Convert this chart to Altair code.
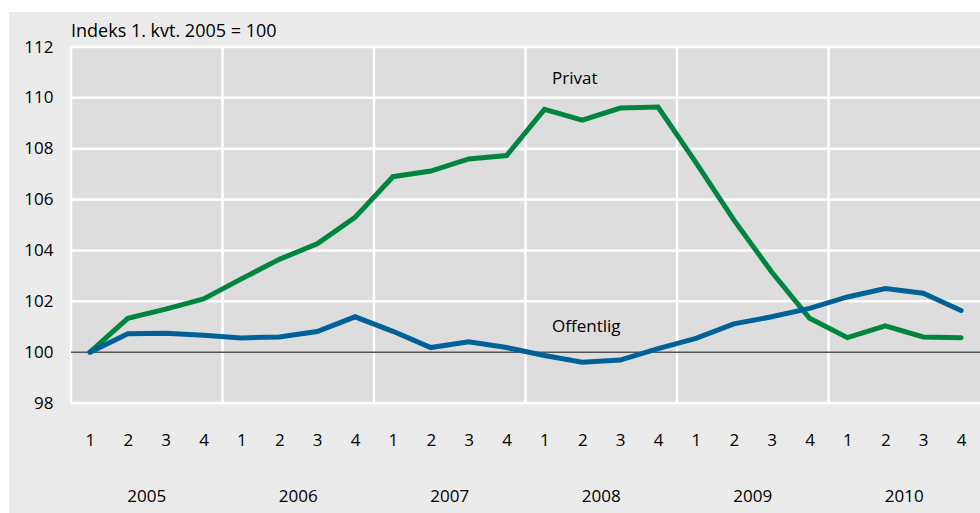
import altair as alt
import pandas as pd

# ---- data ----
years = ["2005", "2006", "2007", "2008", "2009", "2010"]
quarters = ["1", "2", "3", "4"]
privat = [100.0, 101.33, 101.69, 102.09,
          102.88, 103.65, 104.26, 105.30,
          106.90, 107.12, 107.60, 107.73,
          109.55, 109.12, 109.60, 109.64,
          107.45, 105.20, 103.15, 101.33,
          100.57, 101.03, 100.60, 100.57]
offentlig = [100.0, 100.72, 100.74, 100.66,
             100.56, 100.60, 100.81, 101.39,
             100.82, 100.18, 100.41, 100.18,
             99.87, 99.60, 99.69, 100.14,
             100.54, 101.11, 101.39, 101.72,
             102.17, 102.50, 102.32, 101.64]
y_ticks = [98, 100, 102, 104, 106, 108, 110, 112]
y_grid = [98, 102, 104, 106, 108, 110, 112]
year_bounds = [-0.5, 3.5, 7.5, 11.5, 15.5, 19.5]
ann_labels = ["Privat", "Offentlig"]
ann_x = [12.2, 12.2]
ann_y = [110.75, 101.0]
y_title = "Indeks 1. kvt. 2005 = 100"

n = len(privat)
idx = list(range(n))
df = pd.DataFrame({
    "idx": idx * 2,
    "value": privat + offentlig,
    "series": ["Privat"] * n + ["Offentlig"] * n,
})
years_df = pd.DataFrame({"year": years, "pos": [1.5 + 4 * i for i in range(len(years))]})
ann_df = pd.DataFrame({"label": ann_labels, "x": ann_x, "y": ann_y})

W, H = 909, 356
GREEN = "#00853f"
BLUE = "#006199"
FONT = "Open Sans, Noto Sans, sans-serif"

xs = alt.Scale(domain=[-0.5, n - 0.5], nice=False, zero=False)
ys = alt.Scale(domain=[98, 112], nice=False, zero=False)

xaxis = alt.Axis(values=idx, labelExpr="(datum.value % 4) + 1", title=None, grid=False,
                 ticks=False, domain=False, labelPadding=29, labelFont=FONT,
                 labelFontSize=17, labelColor="black", zindex=1)
yaxis = alt.Axis(values=y_ticks, title=None, grid=False, ticks=False, domain=False,
                 labelPadding=18, labelFont=FONT, labelFontSize=17,
                 labelColor="black", zindex=1)

one = alt.Data(values=[{}])

panel = alt.Chart(one).mark_rect(color="#ebebeb").encode(
    x=alt.value(-62), x2=alt.value(W), y=alt.value(-35), y2=alt.value(466))
plotbg = alt.Chart(one).mark_rect(color="#dddddd").encode(
    x=alt.value(0), x2=alt.value(W), y=alt.value(0), y2=alt.value(H))

hgrid = alt.Chart(pd.DataFrame({"v": y_grid})).mark_rule(color="white", strokeWidth=2.5).encode(
    y=alt.Y("v:Q", scale=ys, axis=yaxis), x=alt.value(0), x2=alt.value(W))
vgrid = alt.Chart(pd.DataFrame({"v": year_bounds})).mark_rule(color="white", strokeWidth=2.5).encode(
    x=alt.X("v:Q", scale=xs, axis=xaxis), y=alt.value(0), y2=alt.value(H))
base100 = alt.Chart(pd.DataFrame({"v": [100]})).mark_rule(color="#555555", strokeWidth=1.5).encode(
    y=alt.Y("v:Q", scale=ys, axis=yaxis), x=alt.value(0), x2=alt.value(W))

lines = alt.Chart(df).mark_line(strokeWidth=5, strokeCap="round").encode(
    x=alt.X("idx:Q", scale=xs, axis=xaxis),
    y=alt.Y("value:Q", scale=ys, axis=yaxis),
    color=alt.Color("series:N", scale=alt.Scale(domain=["Privat", "Offentlig"],
                                                range=[GREEN, BLUE]), legend=None),
    detail="series:N",
)

year_text = alt.Chart(years_df).mark_text(font=FONT, fontSize=17, color="black",
                                          baseline="middle").encode(
    x=alt.X("pos:Q", scale=xs, axis=xaxis), y=alt.value(450), text="year:N")

ann = alt.Chart(ann_df).mark_text(font=FONT, fontSize=17, color="black",
                                  align="left", baseline="middle").encode(
    x=alt.X("x:Q", scale=xs, axis=xaxis), y=alt.Y("y:Q", scale=ys, axis=yaxis), text="label:N")

title_txt = alt.Chart(alt.Data(values=[{"t": y_title}])).mark_text(
    font=FONT, fontSize=18, color="black", align="left", baseline="middle").encode(
    x=alt.value(0), y=alt.value(-15), text="t:N")

chart = alt.layer(panel, plotbg, hgrid, vgrid, base100, lines, year_text, ann, title_txt).properties(
    width=W, height=H,
    autosize=alt.AutoSizeParams(type="none"),
    padding={"left": 71, "top": 47, "right": 0, "bottom": 110},
    background="white",
).configure_view(stroke=None)

chart.save("out.html", embed_options={"renderer": "svg", "actions": False})
